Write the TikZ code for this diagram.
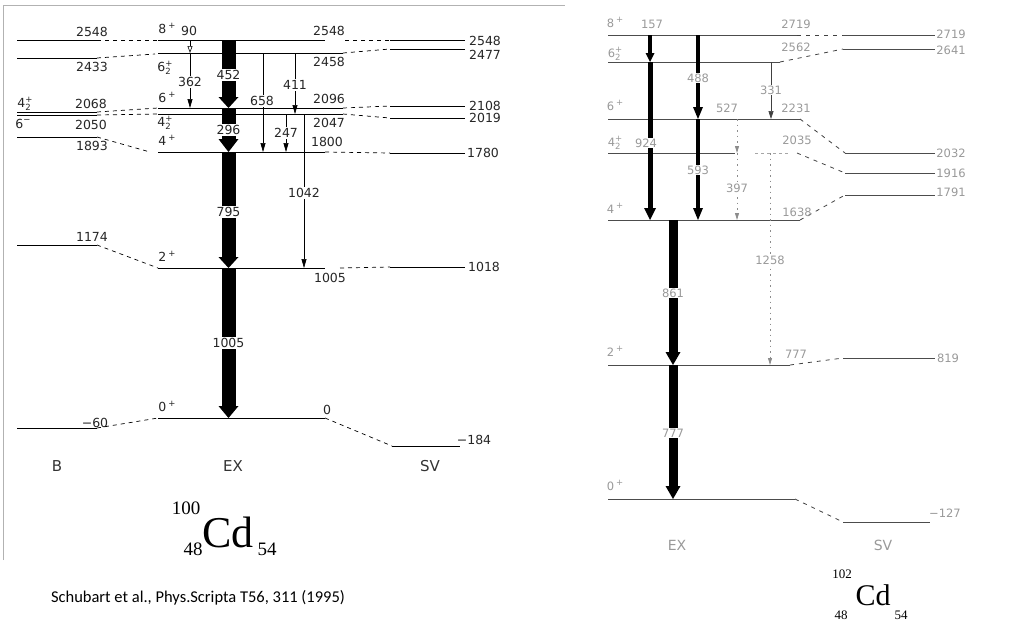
\documentclass[tikz,border=0pt]{standalone}
\usepackage{fontspec}
\setmainfont{DejaVu Sans}
\newfontfamily\capfont{Carlito}
\newfontfamily\nucfont{Liberation Serif}
\usetikzlibrary{arrows.meta}
\newcommand{\jpi}[3]{#1\rlap{\raisebox{-.45ex}{\fontsize{8.5}{8.5}\selectfont #2}}\raisebox{.75ex}{\fontsize{8.5}{8.5}\selectfont #3}}
\newcommand{\tarr}[7]{%
  \fill[#7] (#1-#4,#2) rectangle (#1+#4,#3-#6);
  \fill[#7] (#1-#5,#3-#6) -- (#1+#5,#3-#6) -- (#1,#3) -- cycle;}
\tikzset{
  lvl/.style={line width=0.9pt, black},
  rlvl/.style={line width=0.8pt, black!70},
  dsh/.style={line width=0.7pt, black, dash pattern=on 4pt off 4pt},
  rdsh/.style={line width=0.8pt, black!75, dash pattern=on 4pt off 5pt},
  lbl/.style={font=\fontsize{12.5}{12.5}\selectfont, text=black!85, inner sep=1pt},
  rlbl/.style={font=\fontsize{11.5}{11.5}\selectfont, text=black!40, inner sep=1pt},
  wl/.style={lbl, fill=white},
  rwl/.style={rlbl, fill=white},
  col/.style={font=\fontsize{15}{15}\selectfont, text=black!80},
  rcol/.style={font=\fontsize{14}{14}\selectfont, text=black!40},
  thin/.style={line width=0.6pt, -{Triangle[length=9pt,width=5pt]}},
  rdot/.style={line width=0.8pt, black!45, dash pattern=on 1.5pt off 4pt, -{Triangle[length=7pt,width=4pt]}},
}
\begin{document}
\begin{tikzpicture}[x=1pt,y=-1pt]
\useasboundingbox (0,0) rectangle (1032,630);
% frame of left scan
\draw[black!30, line width=0.6pt] (3,560) -- (3,5) -- (565,5);

% ---------- 100Cd : B column ----------
\foreach \y in {40,58,112,115,137,245,428} \draw[lvl] (17,\y) -- (97,\y);
\node[lbl] (b1) at (92,32) {2548};
\node[lbl] (b2) at (92,67) {2433};
\node[lbl] (b3) at (25,104) {\jpi{4}{2}{+}};
\node[lbl] (b4) at (91,104) {2068};
\node[lbl] (b5) at (23,125) {\jpi{6}{}{−}};
\node[lbl] (b6) at (91,125) {2050};
\node[lbl] (b7) at (92,146) {1893};
\node[lbl] (b8) at (92,237) {1174};
\node[lbl] (b9) at (95,423) {−60};
% B -> EX dashes
\draw[dsh] (97,40) -- (158,40);
\draw[dsh] (97,58) -- (155,54);
\draw[dsh] (97,112) -- (158,108);
\draw[dsh] (97,115) -- (158,114);
\draw[dsh] (97,137) -- (150,152);
\draw[dsh] (97,245) -- (158,268);
\draw[dsh] (97,428) -- (158,418);

% ---------- EX column ----------
\draw[lvl] (158,40) -- (325,40);
\draw[lvl] (158,53) -- (343,53);
\draw[lvl] (158,108) -- (343,108);
\draw[lvl] (158,114) -- (343,114);
\draw[lvl] (158,152) -- (325,152);
\draw[lvl] (158,268) -- (325,268);
\draw[lvl] (158,418) -- (325,418);
% EX -> SV dashes
\draw[dsh] (345,40) -- (390,40);
\draw[dsh] (343,53) -- (390,49);
\draw[dsh] (343,108) -- (390,106);
\draw[dsh] (343,114) -- (390,118);
\draw[dsh] (325,152) -- (390,153);
\draw[dsh] (340,268) -- (390,267);
\draw[dsh] (325,418) -- (392,446);
% SV column
\draw[lvl] (390,40) -- (465,40);
\draw[lvl] (390,49) -- (465,49);
\draw[lvl] (390,106) -- (465,106);
\draw[lvl] (390,118) -- (465,118);
\draw[lvl] (390,153) -- (465,153);
\draw[lvl] (390,267) -- (465,267);
\draw[lvl] (392,446) -- (460,446);

% thick transitions
\tarr{228.5}{40}{108}{7}{10}{11}{black}
\tarr{228.5}{108}{152}{7}{10}{13}{black}
\tarr{228.5}{152}{268}{7}{10}{11}{black}
\tarr{228.5}{268}{418}{7}{10}{12}{black}
% thin transitions
\draw[line width=0.6pt, -{Triangle[open,length=7pt,width=5pt]}] (190,40) -- (190,53);
\draw[thin] (190,53) -- (190,108);
\draw[thin] (263,53) -- (263,152);
\draw[thin] (295,53) -- (295,114);
\draw[thin] (286,114) -- (286,152);
\draw[thin] (304,114) -- (304,268);
% transition labels
\node[wl] (t452) at (228.5,75) {452};
\node[wl] (t296) at (228.5,130) {296};
\node[wl] (t795) at (228.5,212) {795};
\node[wl] (t1005) at (228.5,343) {1005};
\node[lbl] (t90) at (189,31) {90};
\node[wl] (t362) at (190,82) {362};
\node[wl] (t658) at (262,101) {658};
\node[wl] (t411) at (295,85) {411};
\node[wl] (t247) at (286,133) {247};
\node[wl] (t1042) at (304,193) {1042};
% EX labels
\node[lbl] (e1) at (167,30) {\jpi{8\,}{}{+}};
\node[lbl] (e3) at (329,31) {2548};
\node[lbl] (e4) at (165,68) {\jpi{6}{2}{+}};
\node[lbl] (e5) at (329,62) {2458};
\node[lbl] (e6) at (167,99) {\jpi{6\,}{}{+}};
\node[lbl] (e7) at (329,99) {2096};
\node[lbl] (e8) at (165,123) {\jpi{4}{2}{+}};
\node[lbl] (e9) at (329,123) {2047};
\node[lbl] (e10) at (167,142) {\jpi{4\,}{}{+}};
\node[lbl] (e11) at (327,142) {1800};
\node[lbl] (e12) at (167,258) {\jpi{2\,}{}{+}};
\node[lbl] (e13) at (330,278) {1005};
\node[lbl] (e14) at (167,408) {\jpi{0\,}{}{+}};
\node[lbl] (e15) at (327,410) {0};
% SV labels
\node[lbl] (s1) at (485,41) {2548};
\node[lbl] (s2) at (485,55) {2477};
\node[lbl] (s3) at (485,106) {2108};
\node[lbl] (s4) at (485,118) {2019};
\node[lbl] (s5) at (483,153) {1780};
\node[lbl] (s6) at (484,267) {1018};
\node[lbl] (s7) at (474,440) {−184};
% column names
\node[col] (cB) at (57,466) {B};
\node[col] (cEX) at (233,466) {EX};
\node[col] (cSV) at (430,466) {SV};
% nuclide
\node[inner sep=0pt, font=\nucfont\fontsize{44}{44}\selectfont] (cd1) at (228,532) {Cd};
\node[inner sep=0pt, font=\nucfont\fontsize{19}{19}\selectfont] (a1) at (186,508) {100};
\node[inner sep=0pt, font=\nucfont\fontsize{19}{19}\selectfont] (z1) at (193,549) {48};
\node[inner sep=0pt, font=\nucfont\fontsize{19}{19}\selectfont] (n1) at (267,549) {54};

% ---------- 102Cd ----------
% EX levels
\draw[rlvl] (608,35) -- (797,35);
\draw[rlvl] (608,62) -- (780,62);
\draw[rlvl] (608,119) -- (800,119);
\draw[rlvl] (608,153) -- (735,153);
\draw[line width=0.8pt, black!35, dash pattern=on 3pt off 3pt] (755,153) -- (790,153);
\draw[rlvl] (608,220) -- (800,220);
\draw[rlvl] (608,365) -- (790,365);
\draw[rlvl] (608,499) -- (795,499);
% dashes
\draw[rdsh] (797,35) -- (843,35);
\draw[rdsh] (780,62) -- (843,49);
\draw[rdsh] (800,119) -- (845,153);
\draw[rdsh] (797,153) -- (845,173);
\draw[rdsh] (800,220) -- (845,195);
\draw[rdsh] (790,365) -- (843,358);
\draw[rdsh] (795,499) -- (843,522);
% SV levels
\draw[rlvl] (843,35) -- (935,35);
\draw[rlvl] (843,49) -- (935,49);
\draw[rlvl] (845,153) -- (935,153);
\draw[rlvl] (845,173) -- (935,173);
\draw[rlvl] (845,195) -- (935,195);
\draw[rlvl] (843,358) -- (935,358);
\draw[rlvl] (843,522) -- (930,522);
% transitions
\tarr{650}{35}{62}{2}{4.5}{9}{black}
\tarr{650}{62}{220}{2.5}{6}{12}{black}
\tarr{698}{35}{119}{2}{5}{12}{black}
\tarr{698}{119}{220}{2}{5}{12}{black}
\tarr{673}{220}{365}{4.5}{7.5}{13}{black}
\tarr{673}{365}{499}{4.5}{7.5}{13}{black}
\draw[line width=0.6pt, black!75, -{Triangle[length=8pt,width=5pt]}] (771,62) -- (771,119);
\draw[rdot] (737,119) -- (737,153);
\draw[rdot] (737,153) -- (737,220);
\draw[rdot] (770,153) -- (770,365);
% transition labels
\node[rlbl] (r157) at (652,24) {157};
\node[rwl] (r924) at (646,143) {924};
\node[rwl] (r488) at (698,78) {488};
\node[rwl] (r593) at (698,170) {593};
\node[rwl] (r331) at (771,90) {331};
\node[rlbl] (r527) at (727,108) {527};
\node[rwl] (r397) at (737,188) {397};
\node[rwl] (r1258) at (770,260) {1258};
\node[rwl] (r861) at (673,293) {861};
\node[rwl] (r777) at (673,433) {777};
% level labels
\node[rlbl] (q1) at (615,24) {\jpi{8\,}{}{+}};
\node[rlbl] (q2) at (615,54) {\jpi{6}{2}{+}};
\node[rlbl] (q3) at (615,107) {\jpi{6\,}{}{+}};
\node[rlbl] (q4) at (615,143) {\jpi{4}{2}{+}};
\node[rlbl] (q5) at (615,210) {\jpi{4\,}{}{+}};
\node[rlbl] (q6) at (615,353) {\jpi{2\,}{}{+}};
\node[rlbl] (q7) at (615,487) {\jpi{0\,}{}{+}};
\node[rlbl] (x1) at (796,24) {2719};
\node[rlbl] (x2) at (796,47) {2562};
\node[rlbl] (x3) at (796,108) {2231};
\node[rlbl] (x4) at (797,140) {2035};
\node[rlbl] (x5) at (797,212) {1638};
\node[rlbl] (x6) at (796,354) {777};
\node[rlbl] (v1) at (951,34) {2719};
\node[rlbl] (v2) at (951,50) {2641};
\node[rlbl] (v3) at (951,153) {2032};
\node[rlbl] (v4) at (951,173) {1916};
\node[rlbl] (v5) at (951,192) {1791};
\node[rlbl] (v6) at (948,358) {819};
\node[rlbl] (v7) at (945,513) {−127};
\node[rcol] (cEX2) at (677,545) {EX};
\node[rcol] (cSV2) at (883,545) {SV};
% nuclide
\node[inner sep=0pt, font=\nucfont\fontsize{30}{30}\selectfont] (cd2) at (873,595) {Cd};
\node[inner sep=0pt, font=\nucfont\fontsize{13}{13}\selectfont] (a2) at (842,574) {102};
\node[inner sep=0pt, font=\nucfont\fontsize{13}{13}\selectfont] (z2) at (841,615) {48};
\node[inner sep=0pt, font=\nucfont\fontsize{13}{13}\selectfont] (n2) at (901,615) {54};

% caption
\node[inner sep=0pt, font=\capfont\fontsize{16.5}{16.5}\selectfont] (cap) at (198,598) {Schubart et al., Phys.Scripta T56, 311 (1995)};
\end{tikzpicture}
\end{document}
